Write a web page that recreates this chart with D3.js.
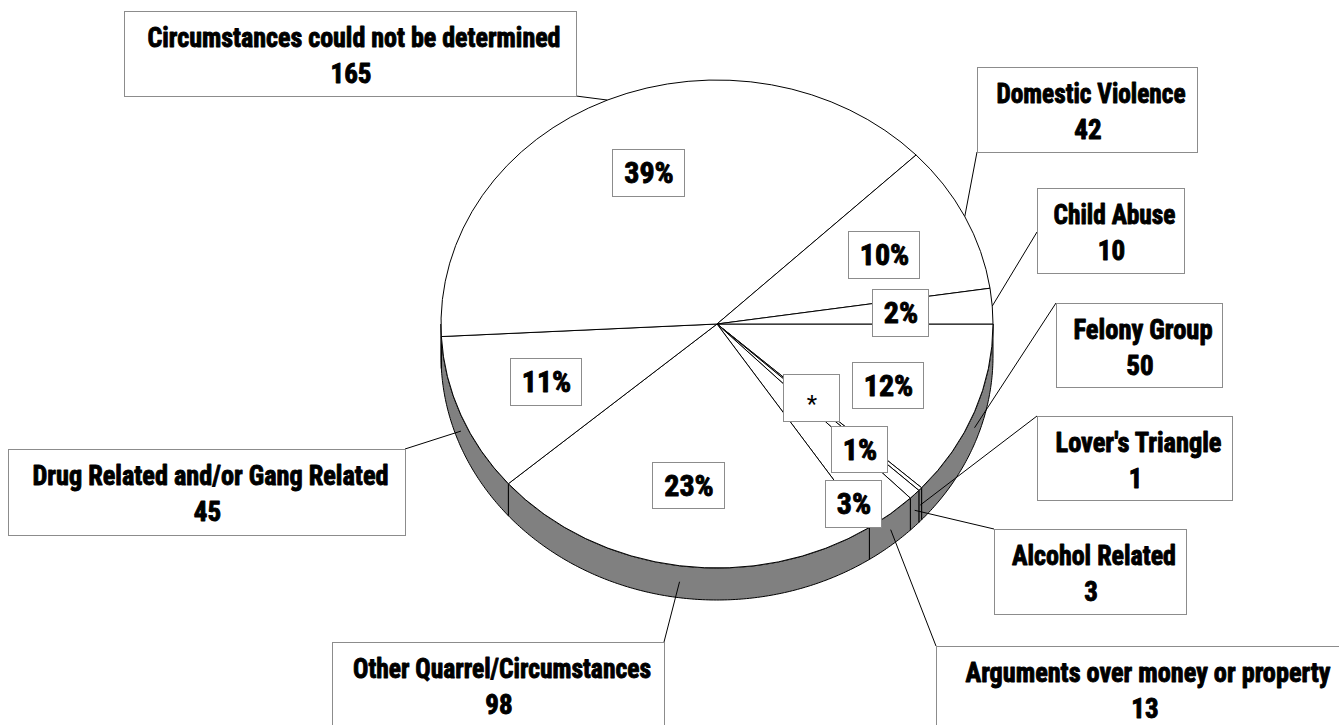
<!DOCTYPE html>
<html>
<head>
<meta charset="utf-8">
<script src="https://cdn.jsdelivr.net/npm/d3@7"></script>
<style>
  html, body { margin: 0; padding: 0; background: #fff; }
  svg { display: block; }
  .lbl { font-family: "Liberation Sans Narrow", "Roboto Condensed", "DejaVu Sans Condensed", "Liberation Sans", sans-serif; font-weight: bold; fill: #000; stroke: #000; stroke-width: 0.9px; stroke-linejoin: round; }
</style>
</head>
<body>
<svg id="chart" width="1339" height="725"></svg>
<script>
// ---- data (pie order, clockwise from 3 o'clock) ----
const categories = [
  "Felony Group",
  "Lover's Triangle",
  "Alcohol Related",
  "Arguments over money or property",
  "Other Quarrel/Circumstances",
  "Drug Related and/or Gang Related",
  "Circumstances could not be determined",
  "Domestic Violence",
  "Child Abuse"
];
const values = [50, 1, 3, 13, 98, 45, 165, 42, 10];
const pctLabels = ["12%", "*", "1%", "3%", "23%", "11%", "39%", "10%", "2%"];

// ---- layout (positions / sizes only) ----
const labelBoxes = [ // x0, y0, x1, y1
  [1056, 303, 1222, 387],
  [1037, 416, 1232, 500],
  [994, 529, 1186, 614],
  [936, 646, 1352, 731],
  [332, 642, 664, 727],
  [8, 449, 405, 535],
  [124, 11, 576, 96],
  [977, 67, 1197, 152],
  [1037, 188, 1184, 273]
];
const nameWidths = [139, 166, 164, 365, 298, 356, 413, 189, 122];
const leaderAnchors = [
  [1056, 303], [1037, 416], [994, 529], [936, 646], [664, 642],
  [405, 449], [576, 96], [977, 152], [1037, 232]
];
const pctBoxes = [
  [852, 362, 923, 408],
  [783, 374, 839, 421],
  [831, 426, 887, 472],
  [825, 480, 881, 527],
  [652, 462, 724, 508],
  [510, 358, 581, 405],
  [612, 149, 684, 196],
  [848, 231, 919, 278],
  [872, 289, 928, 336]
];

const cx = 717, cy = 324, rx = 276, ry = 244, depth = 32;

const svg = d3.select("#chart");
const data = categories.map((c, i) => ({ name: c, value: values[i], pct: pctLabels[i], i }));

const pie = d3.pie().sort(null).value(d => d.value)
  .startAngle(Math.PI / 2).endAngle(Math.PI / 2 + 2 * Math.PI);
const arcs = pie(data);

const px = a => cx + rx * Math.sin(a);
const py = a => cy - ry * Math.cos(a);

// ---- side walls (front-facing part only) ----
const sideG = svg.append("g");
const line = d3.line();
arcs.forEach(d => {
  const b0 = Math.max(d.startAngle, Math.PI / 2);
  const b1 = Math.min(d.endAngle, 3 * Math.PI / 2);
  if (b1 <= b0) return;
  const n = Math.max(2, Math.ceil((b1 - b0) / 0.01));
  const top = d3.range(n + 1).map(k => b0 + (b1 - b0) * k / n);
  const pts = top.map(a => [px(a), py(a)])
    .concat(top.slice().reverse().map(a => [px(a), py(a) + depth]));
  sideG.append("path")
    .attr("d", line(pts) + "Z")
    .attr("fill", "#808080")
    .attr("stroke", "#000")
    .attr("stroke-width", 1)
    .attr("stroke-linejoin", "round");
});

// ---- top faces ----
const arcGen = d3.arc().innerRadius(0).outerRadius(rx);
svg.append("g")
  .attr("transform", `translate(${cx},${cy}) scale(1,${ry / rx})`)
  .selectAll("path")
  .data(arcs)
  .join("path")
  .attr("d", arcGen)
  .attr("fill", "#fff")
  .attr("stroke", "#000")
  .attr("stroke-width", 1)
  .attr("vector-effect", "non-scaling-stroke");

// ---- leader lines ----
svg.append("g").selectAll("line")
  .data(arcs)
  .join("line")
  .attr("x1", d => leaderAnchors[d.data.i][0])
  .attr("y1", d => leaderAnchors[d.data.i][1])
  .attr("x2", d => { const m = (d.startAngle + d.endAngle) / 2; return px(m); })
  .attr("y2", d => { const m = (d.startAngle + d.endAngle) / 2; return py(m) + (Math.cos(m) < 0 ? depth / 2 : 0); })
  .attr("stroke", "#000")
  .attr("stroke-width", 1);

// ---- percentage boxes ----
const pg = svg.append("g").selectAll("g").data(data).join("g");
pg.append("rect")
  .attr("x", d => pctBoxes[d.i][0] + 0.5)
  .attr("y", d => pctBoxes[d.i][1] + 0.5)
  .attr("width", d => pctBoxes[d.i][2] - pctBoxes[d.i][0])
  .attr("height", d => pctBoxes[d.i][3] - pctBoxes[d.i][1])
  .attr("fill", "#fff")
  .attr("stroke", "#8c8c8c")
  .attr("stroke-width", 1);
pg.append("text")
  .attr("class", "lbl")
  .attr("x", d => (pctBoxes[d.i][0] + pctBoxes[d.i][2]) / 2 + 1)
  .attr("y", d => (pctBoxes[d.i][1] + pctBoxes[d.i][3]) / 2 + (d.pct === "*" ? 14 : 10.5))
  .attr("text-anchor", "middle")
  .style("font-size", d => d.pct === "*" ? "24px" : "30px")
  .style("font-weight", d => d.pct === "*" ? "normal" : "bold")
  .style("stroke-width", d => d.pct === "*" ? "0px" : "0.9px")
  .text(d => d.pct);

// ---- category label boxes ----
const lg = svg.append("g").selectAll("g").data(data).join("g");
lg.append("rect")
  .attr("x", d => labelBoxes[d.i][0] + 0.5)
  .attr("y", d => labelBoxes[d.i][1] + 0.5)
  .attr("width", d => labelBoxes[d.i][2] - labelBoxes[d.i][0])
  .attr("height", d => labelBoxes[d.i][3] - labelBoxes[d.i][1])
  .attr("fill", "#fff")
  .attr("stroke", "#8c8c8c")
  .attr("stroke-width", 1);
lg.append("text")
  .attr("class", "lbl")
  .attr("x", d => (labelBoxes[d.i][0] + labelBoxes[d.i][2]) / 2 + 4)
  .attr("y", d => labelBoxes[d.i][1] + 36)
  .attr("text-anchor", "middle")
  .attr("textLength", d => nameWidths[d.i])
  .attr("lengthAdjust", "spacingAndGlyphs")
  .style("font-size", "27px")
  .text(d => d.name);
lg.append("text")
  .attr("class", "lbl")
  .attr("x", d => (labelBoxes[d.i][0] + labelBoxes[d.i][2]) / 2 + 1)
  .attr("y", d => labelBoxes[d.i][1] + 72)
  .attr("text-anchor", "middle")
  .style("font-size", "27px")
  .text(d => d.value);
</script>
</body>
</html>
